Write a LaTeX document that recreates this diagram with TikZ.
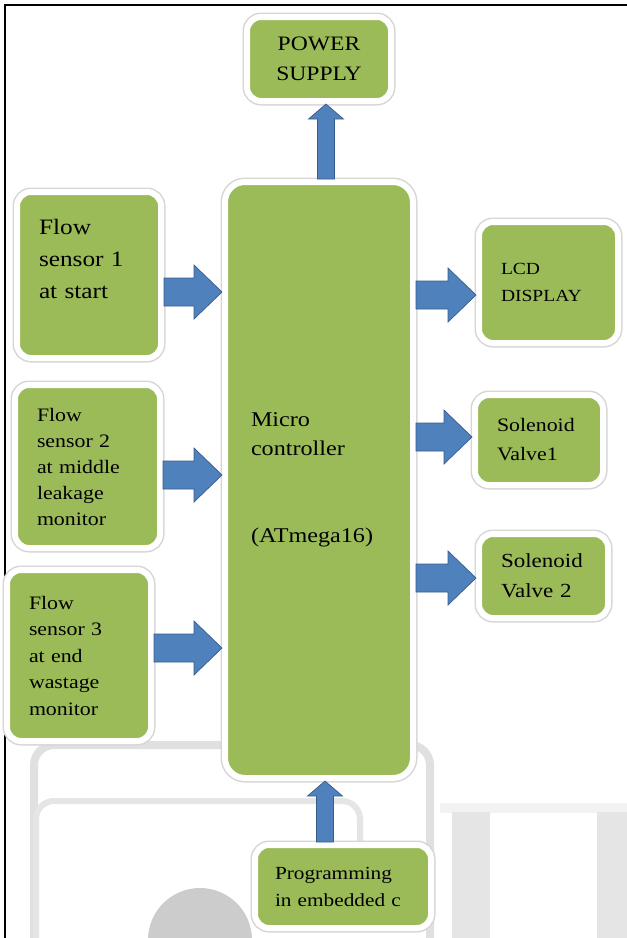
\documentclass[tikz,border=0pt]{standalone}
\usepackage{fontspec}
\setmainfont{Liberation Serif}[FakeStretch=1.15]
\usepackage{tikz}
\usetikzlibrary{positioning,calc}
\definecolor{boxgreen}{HTML}{9BBB59}
\definecolor{arrowblue}{HTML}{4F81BD}
\definecolor{arrowline}{HTML}{385D8A}

\begin{document}
\begin{tikzpicture}[x=1pt, y=-1pt,
	  blk/.style = {shape=rectangle, rounded corners=14pt,
	    draw=white, line width=6pt, fill=boxgreen, text=black,
	    align=left, inner xsep=22pt, inner ysep=0pt,
	    preaction={draw=black!16, line width=9pt}},
	  barrow/.style n args = {3}{draw=arrowline, line width=0.7pt, fill=arrowblue,
	    to path={($(\tikztostart)!#1!90:(\tikztotarget)$)
	      -- ($(\tikztotarget)!#3!(\tikztostart)!#1!90:(\tikztotarget)$)
	      -- ($(\tikztotarget)!#3!(\tikztostart)!#2!90:(\tikztotarget)$)
	      -- (\tikztotarget)
	      -- ($(\tikztotarget)!#3!(\tikztostart)!#2!-90:(\tikztotarget)$)
	      -- ($(\tikztotarget)!#3!(\tikztostart)!#1!-90:(\tikztotarget)$)
	      -- ($(\tikztostart)!#1!-90:(\tikztotarget)$) -- cycle}},
	  bigarrow/.style = {barrow={14pt}{27pt}{28pt}},
	  thinarrow/.style = {barrow={8.5pt}{17.5pt}{15pt}}]
	\useasboundingbox (0,0) rectangle (627,938);
	\fill[white] (0,0) rectangle (627,938);
	% faint marks of the page behind
	\draw[black!12, line width=8pt, rounded corners=20pt] (34,950) -- (34,745) -- (430,745) -- (430,950);
	\draw[black!10, line width=6pt, rounded corners=18pt] (36,950) -- (36,801) -- (360,801) -- (360,850);
	\fill[black!20] (200,940) circle (52);
	\fill[black!5] (440,803) rectangle (627,813);
	\fill[black!10] (452,812) rectangle (490,938);
	\fill[black!10] (597,812) rectangle (627,938);
	\draw[line width=2pt] (5,938) -- (5,5) -- (627,5);

	% blocks
	\node[blk, align=center, text width=100pt, minimum height=84pt,
	  font={\fontsize{20.5}{30}\selectfont}] (ps) at (319,59) {POWER\\SUPPLY};
	\node[blk, rounded corners=20pt, inner xsep=26pt, text width=136pt, minimum height=596pt,
	  font={\fontsize{21}{29}\selectfont}] (mc) at (319,480) {Micro\\controller\\[58pt](ATmega16)};
	\node[blk, text width=100pt, minimum height=166pt,
	  font={\fontsize{22}{32}\selectfont}] (fs1) at (89,275) {Flow\\sensor 1\\at start\\~};
	\node[blk, text width=101pt, minimum height=163pt,
	  font={\fontsize{19}{26}\selectfont}] (fs2) at (87.5,466.5) {Flow\\sensor 2\\at middle\\leakage\\monitor};
	\node[blk, text width=100pt, minimum height=171pt,
	  font={\fontsize{19}{26.5}\selectfont}] (fs3) at (79,655.5) {Flow\\sensor 3\\at end\\wastage\\monitor};
	\node[blk, text width=95pt, minimum height=121pt,
	  font={\fontsize{17}{27}\selectfont}] (lcd) at (548.5,282.5) {LCD\\DISPLAY};
	\node[blk, text width=84pt, minimum height=90pt,
	  font={\fontsize{19}{29}\selectfont}] (sv1) at (539,440) {Solenoid\\Valve1};
	\node[blk, text width=85pt, minimum height=84pt,
	  font={\fontsize{20}{30}\selectfont}] (sv2) at (543.5,576) {Solenoid\\Valve 2};
	\node[blk, inner xsep=20pt, text width=136pt, minimum height=83pt,
	  font={\fontsize{18.5}{27}\selectfont}] (prog) at (343,886.5) {Programming\\in embedded c};

	% arrows
	\coordinate (in1) at ([yshift=-17pt]fs1.east);
	\coordinate (in2) at ([yshift=-8.5pt]fs2.east);
	\coordinate (in3) at ([yshift=7.5pt]fs3.east);
	\coordinate (out1) at ([yshift=-12.5pt]lcd.west);
	\coordinate (out2) at ([yshift=3pt]sv1.west);
	\coordinate (out3) at ([yshift=-2pt]sv2.west);
	\coordinate (up1) at ([xshift=7pt]mc.north);
	\coordinate (up2) at ([xshift=6pt]mc.south);
	\draw[bigarrow] (in1) to (in1 -| mc.west);
	\draw[bigarrow] (in2) to (in2 -| mc.west);
	\draw[bigarrow] (in3) to (in3 -| mc.west);
	\draw[bigarrow] (out1 -| mc.east) to (out1);
	\draw[bigarrow] (out2 -| mc.east) to (out2);
	\draw[bigarrow] (out3 -| mc.east) to (out3);
	\draw[thinarrow] (up1) to (up1 |- ps.south);
	\draw[thinarrow] (up2 |- prog.north) to (up2);
\end{tikzpicture}
\end{document}
